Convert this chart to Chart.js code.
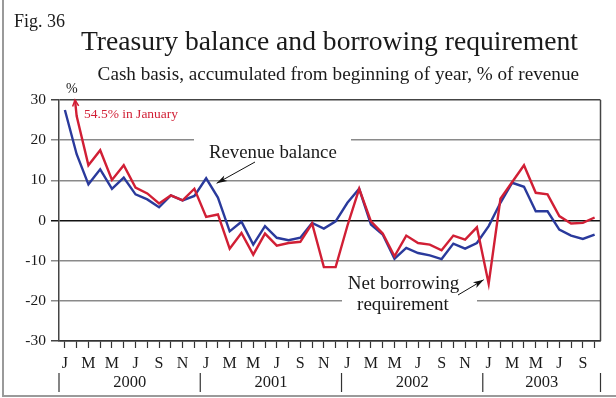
<!DOCTYPE html>
<html>
<head>
<meta charset="utf-8">
<script src="https://cdn.jsdelivr.net/npm/chart.js@4.4.1/dist/chart.umd.min.js"></script>
<style>
  html, body { margin: 0; padding: 0; background: #fff; }
  canvas { display: block; }
</style>
</head>
<body>
<canvas id="chart" width="616" height="398"></canvas>
<script>
// months Jan 2000 - Oct 2003
const monthNames = ['Jan', 'Feb', 'Mar', 'Apr', 'May', 'Jun', 'Jul', 'Aug', 'Sep', 'Oct', 'Nov', 'Dec'];
const years = [2000, 2001, 2002, 2003];
const monthsInLastYear = 10;

const yTickValues = [-30, -20, -10, 0, 10, 20, 30];

// Revenue balance (blue)
const revenueBalance = [
  27.5, 16.5, 9.0, 12.75, 7.9, 10.7, 6.5, 5.25, 3.3, 6.25, 5.0, 6.1,
  10.5, 5.7, -2.7, -0.3, -6.0, -1.4, -4.3, -4.9, -4.3, -0.6, -2.0, -0.2,
  4.4, 7.9, -1.0, -3.5, -9.5, -6.8, -8.1, -8.7, -9.6, -5.75, -7.0, -5.6,
  -1.4, 4.4, 9.4, 8.4, 2.3, 2.3, -2.25, -3.75, -4.6, -3.5
];

// Net borrowing requirement (red), January 2000 is off the chart
const netBorrowing = [
  54.5, 26.0, 13.75, 17.5, 10.1, 13.75, 8.2, 6.75, 4.25, 6.25, 5.0, 7.9,
  0.9, 1.5, -7.0, -3.1, -8.5, -3.25, -6.25, -5.6, -5.3, -0.75, -11.6, -11.6,
  -1.3, 7.9, -0.2, -3.25, -8.9, -3.75, -5.6, -6.0, -7.4, -3.75, -4.75, -1.7,
  -15.75, 5.4, 9.6, 13.75, 6.9, 6.5, 1.1, -0.75, -0.6, 0.75
];

const categories = [];
years.forEach((y, yi) => {
  const count = yi === years.length - 1 ? monthsInLastYear : 12;
  for (let m = 0; m < count; m++) categories.push(monthNames[m] + ' ' + y);
});

const SERIF = '"Liberation Serif", "DejaVu Serif", serif';
const BLUE = '#2a3a9c';
const RED = '#d11f35';

function arrow(ctx, x1, y1, x2, y2, color) {
  const ang = Math.atan2(y2 - y1, x2 - x1);
  const len = 11, spread = 0.3;
  ctx.save();
  ctx.strokeStyle = color;
  ctx.fillStyle = color;
  ctx.lineWidth = 1;
  ctx.beginPath();
  ctx.moveTo(x1, y1);
  ctx.lineTo(x2, y2);
  ctx.stroke();
  ctx.beginPath();
  ctx.moveTo(x2, y2);
  ctx.lineTo(x2 - len * Math.cos(ang - spread), y2 - len * Math.sin(ang - spread));
  ctx.lineTo(x2 - len * 0.7 * Math.cos(ang), y2 - len * 0.7 * Math.sin(ang));
  ctx.lineTo(x2 - len * Math.cos(ang + spread), y2 - len * Math.sin(ang + spread));
  ctx.closePath();
  ctx.fill();
  ctx.restore();
}

const decorations = {
  id: 'decorations',
  beforeDraw(chart) {
    const ctx = chart.ctx;
    ctx.save();
    ctx.fillStyle = '#fff';
    ctx.fillRect(0, 0, chart.width, chart.height);
    // outer frame (left and bottom)
    ctx.strokeStyle = '#9a9a9a';
    ctx.lineWidth = 2;
    ctx.beginPath();
    ctx.moveTo(3, 0);
    ctx.lineTo(3, 396);
    ctx.lineTo(chart.width, 396);
    ctx.stroke();
    ctx.restore();
  },
  beforeDatasetsDraw(chart) {
    // white boxes behind the annotation labels
    const ctx = chart.ctx;
    ctx.save();
    ctx.fillStyle = '#fff';
    ctx.fillRect(194, 132, 157, 20);
    ctx.fillRect(342, 293, 135, 16);
    ctx.restore();
  },
  afterDraw(chart) {
    const ctx = chart.ctx;
    const x = chart.scales.x;
    const y = chart.scales.y;
    const area = chart.chartArea;
    ctx.save();

    // plot right border
    ctx.strokeStyle = '#444';
    ctx.lineWidth = 1.5;
    ctx.beginPath();
    ctx.moveTo(area.right, area.top);
    ctx.lineTo(area.right, area.bottom);
    ctx.stroke();

    ctx.fillStyle = '#1a1a1a';
    ctx.textBaseline = 'alphabetic';
    ctx.textAlign = 'left';
    ctx.font = '18px ' + SERIF;
    ctx.fillText('Fig. 36', 14, 27);
    ctx.textAlign = 'right';
    ctx.font = '27.6px ' + SERIF;
    ctx.fillText('Treasury balance and borrowing requirement', 578, 50);
    ctx.font = '19.2px ' + SERIF;
    ctx.fillText('Cash basis, accumulated from beginning of year, % of revenue', 579, 80);
    ctx.textAlign = 'left';
    ctx.font = '14px ' + SERIF;
    ctx.fillText('%', 66, 93);

    // year labels and separators
    const step = x.getPixelForValue(1) - x.getPixelForValue(0);
    ctx.strokeStyle = '#333';
    ctx.lineWidth = 1.2;
    ctx.textAlign = 'center';
    ctx.textBaseline = 'middle';
    ctx.font = '16.5px ' + SERIF;
    years.forEach((yr, yi) => {
      const first = yi * 12;
      const last = Math.min(first + 11, categories.length - 1);
      const left = x.getPixelForValue(first) - step / 2;
      const right = x.getPixelForValue(last) + step / 2;
      ctx.beginPath();
      ctx.moveTo(left, 373);
      ctx.lineTo(left, 392);
      if (yi === years.length - 1) {
        ctx.moveTo(right, 373);
        ctx.lineTo(right, 392);
      }
      ctx.stroke();
      ctx.fillText(String(yr), (x.getPixelForValue(first) + x.getPixelForValue(last)) / 2, 383);
    });

    // red arrow where January 2000 leaves the chart
    const x0 = x.getPixelForValue(0), y0 = y.getPixelForValue(netBorrowing[0]);
    const x1 = x.getPixelForValue(1), y1 = y.getPixelForValue(netBorrowing[1]);
    const t = (area.top - y0) / (y1 - y0);
    const xi = x0 + t * (x1 - x0);
    const ang = Math.atan2(area.top - y1, xi - x1);
    ctx.strokeStyle = RED;
    ctx.lineWidth = 1.5;
    ctx.beginPath();
    ctx.moveTo(xi - 7 * Math.cos(ang - 0.45), area.top - 7 * Math.sin(ang - 0.45));
    ctx.lineTo(xi, area.top);
    ctx.lineTo(xi - 7 * Math.cos(ang + 0.45), area.top - 7 * Math.sin(ang + 0.45));
    ctx.stroke();

    ctx.fillStyle = RED;
    ctx.textAlign = 'left';
    ctx.textBaseline = 'middle';
    ctx.font = '13.5px ' + SERIF;
    ctx.fillText('54.5% in January', 84, 114);

    // annotations
    ctx.fillStyle = '#1a1a1a';
    ctx.font = '18.8px ' + SERIF;
    ctx.fillText('Revenue balance', 209, 153);
    ctx.textAlign = 'center';
    ctx.font = '19px ' + SERIF;
    ctx.fillText('Net borrowing', 403.5, 284);
    ctx.fillText('requirement', 403, 305);

    const revTipX = x.getPixelForValue(12) + 10.5;
    const revTipY = y.getPixelForValue(revenueBalance[12]) + 5;
    arrow(ctx, 255, 162, revTipX, revTipY, '#111');
    const netTipX = x.getPixelForValue(36) - 5;
    const netTipY = y.getPixelForValue(netBorrowing[36]) - 4;
    arrow(ctx, 458, 295, netTipX, netTipY, '#111');

    ctx.restore();
  }
};

new Chart(document.getElementById('chart'), {
  type: 'line',
  data: {
    labels: categories,
    datasets: [
      {
        label: 'Net borrowing requirement',
        data: netBorrowing,
        borderColor: RED,
        borderWidth: 2.4,
        pointRadius: 0,
        tension: 0,
        fill: false,
        clip: 0
      },
      {
        label: 'Revenue balance',
        data: revenueBalance,
        borderColor: BLUE,
        borderWidth: 2.4,
        pointRadius: 0,
        tension: 0,
        fill: false,
        clip: 0
      }
    ]
  },
  options: {
    responsive: false,
    animation: false,
    devicePixelRatio: 1,
    layout: {
      padding: { top: 100, right: 15.5, left: 0, bottom: 0 }
    },
    plugins: {
      legend: { display: false },
      tooltip: { enabled: false }
    },
    scales: {
      x: {
        type: 'category',
        offset: true,
        afterFit(scale) { scale.height = 57; },
        grid: {
          drawOnChartArea: false,
          drawTicks: true,
          tickLength: 7,
          tickColor: '#333',
          tickWidth: 1.2
        },
        border: { display: true, color: '#333', width: 1.5 },
        ticks: {
          autoSkip: false,
          maxRotation: 0,
          padding: 6,
          color: '#1a1a1a',
          font: { family: SERIF, size: 16 },
          callback(value, index) {
            return index % 2 === 0 ? this.getLabelForValue(value).charAt(0) : '';
          }
        }
      },
      y: {
        min: -30,
        max: 30,
        afterFit(scale) { scale.width = 59; },
        afterBuildTicks(scale) {
          scale.ticks = yTickValues.map(v => ({ value: v }));
        },
        grid: {
          drawTicks: true,
          tickLength: 8,
          lineWidth: 1.5,
          color(ctx) {
            const v = ctx.tick && ctx.tick.value;
            if (v === 0) return '#111';
            if (v === 30 || v === -30) return '#444';
            return '#8a8a8a';
          },
          tickColor(ctx) {
            const v = ctx.tick && ctx.tick.value;
            if (v === 0) return '#111';
            if (v === 30 || v === -30) return '#444';
            return '#8a8a8a';
          }
        },
        border: { display: true, color: '#444', width: 1.5 },
        ticks: {
          padding: 5,
          color: '#1a1a1a',
          font: { family: SERIF, size: 15.5 },
          callback(value) { return String(value); }
        }
      }
    }
  },
  plugins: [decorations]
});
</script>
</body>
</html>
